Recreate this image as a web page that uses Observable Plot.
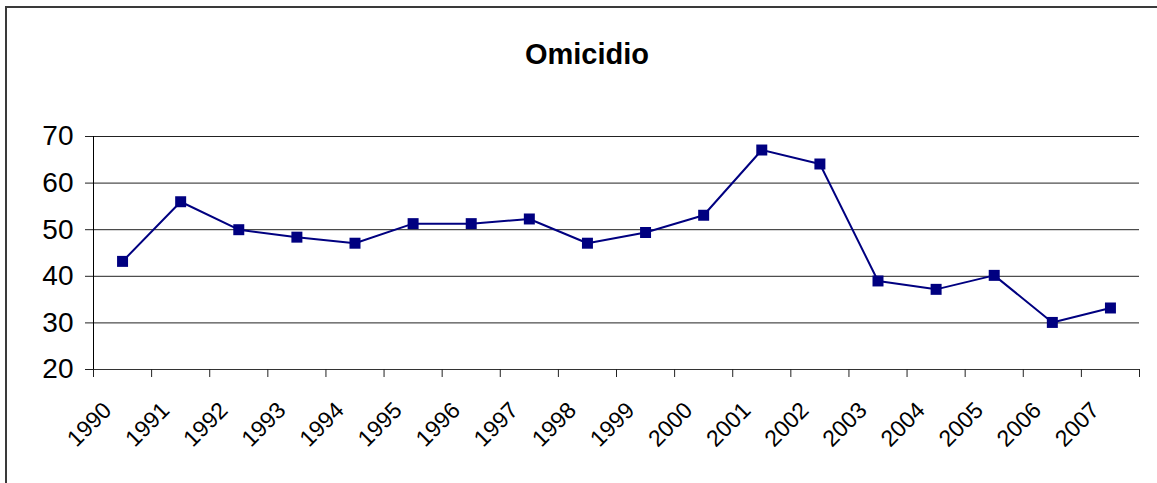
<!DOCTYPE html>
<html>
<head>
<meta charset="utf-8">
<script src="https://cdn.jsdelivr.net/npm/d3@7"></script>
<script src="https://cdn.jsdelivr.net/npm/@observablehq/plot@0.6"></script>
<style>
  html, body { margin: 0; padding: 0; background: #fff; overflow: hidden; }
  #wrap { position: relative; width: 1157px; height: 483px; overflow: hidden; font-family: "Liberation Sans", Arial, sans-serif; }
  #frame { position: absolute; left: 5px; top: 6px; width: 1220px; height: 540px; border: 2px solid #3a3a3a; box-sizing: border-box; pointer-events: none; }
  #title { position: absolute; left: 0; top: 37px; width: 1174px; text-align: center; font-size: 29px; font-weight: bold; line-height: 34px; color: #000; }
  #chart { position: absolute; left: 0; top: 90px; }
</style>
</head>
<body>
<div id="wrap">
  <div id="title">Omicidio</div>
  <div id="chart"></div>
  <div id="frame"></div>
</div>
<script>
const years = ["1990","1991","1992","1993","1994","1995","1996","1997","1998","1999","2000","2001","2002","2003","2004","2005","2006","2007"];
const omicidio = [43.2, 56.0, 50.0, 48.4, 47.1, 51.3, 51.3, 52.3, 47.1, 49.4, 53.1, 67.1, 64.1, 39.0, 37.2, 40.2, 30.1, 33.2];
const yTicks = [20, 30, 40, 50, 60, 70];

const data = years.map((year, i) => ({pos: i + 0.5, year, value: omicidio[i]}));
const boundaries = d3.range(years.length + 1);
const centers = data.map(d => d.pos);

const chart = Plot.plot({
  width: 1157,
  height: 393,
  marginLeft: 93,
  marginRight: 18,
  marginTop: 46,
  marginBottom: 114,
  style: {fontFamily: "'Liberation Sans', Arial, sans-serif", color: "#000", background: "transparent"},
  x: {type: "linear", domain: [0, years.length]},
  y: {domain: [20, 70]},
  marks: [
    Plot.ruleY(yTicks.slice(1), {stroke: "#222", strokeWidth: 1}),
    Plot.ruleY([20], {stroke: "#333", strokeWidth: 1}),
    Plot.ruleX([0], {stroke: "#000", strokeWidth: 1}),
    Plot.axisY({ticks: yTicks, tickSize: 8, tickPadding: 12, fontSize: 28, label: null, stroke: "#222"}),
    Plot.axisX({ticks: boundaries, tickSize: 8, tickFormat: () => "", label: null, stroke: "#222"}),
    Plot.axisX({ticks: centers, tickSize: 0, tickPadding: 37, tickRotate: -45, dx: -15,
                tickFormat: d => years[Math.round(d - 0.5)], fontSize: 23, label: null}),
    Plot.line(data, {x: "pos", y: "value", stroke: "#000080", strokeWidth: 2}),
    Plot.dot(data, {x: "pos", y: "value", symbol: "square", r: 6.2, fill: "#000080"})
  ]
});
document.getElementById("chart").appendChild(chart);
</script>
</body>
</html>
